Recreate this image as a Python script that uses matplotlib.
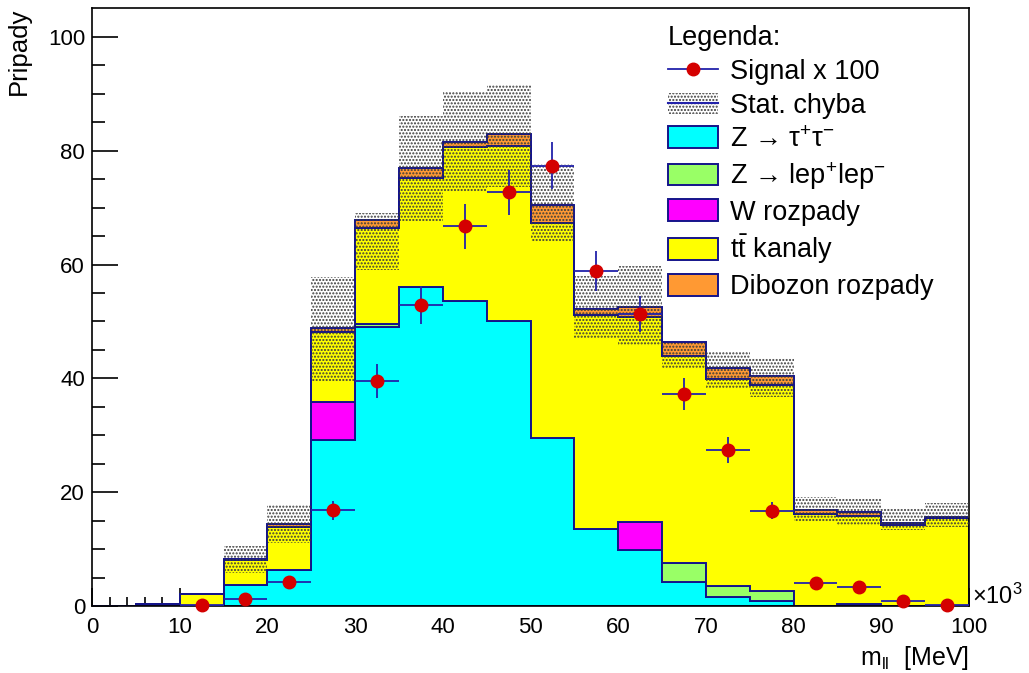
import numpy as np
import matplotlib
matplotlib.use("Agg")
import matplotlib.pyplot as plt
from matplotlib.patches import Patch
from matplotlib.lines import Line2D

plt.rcParams['font.family'] = ['Liberation Sans', 'DejaVu Sans']
plt.rcParams['mathtext.fontset'] = 'custom'
plt.rcParams['mathtext.rm'] = 'Liberation Sans'
plt.rcParams['mathtext.it'] = 'Liberation Sans'
plt.rcParams['mathtext.bf'] = 'Liberation Sans:bold'
plt.rcParams['hatch.linewidth'] = 1.0

# bins in units of 10^3 MeV
bin_edges = np.arange(0, 101, 5)

# stacked backgrounds, bottom to top
z_tautau = [0, 0, 0, 3.7, 6.3, 29.1, 49.0, 56.1, 53.6, 50.0,
            29.6, 13.5, 9.8, 4.3, 1.6, 0.8, 0, 0.3, 0, 0]
z_leplep = [0, 0, 0, 0, 0, 0, 0.5, 0, 0, 0,
            0, 0, 0, 3.3, 1.9, 1.9, 0, 0, 0, 0]
w_decays = [0, 0, 0, 0, 0, 6.7, 0, 0, 0, 0,
            0, 0, 5.0, 0, 0, 0, 0, 0, 0, 0]
ttbar = [0, 0.3, 2.1, 4.4, 7.6, 12.3, 17.0, 19.2, 27.1, 30.9,
         37.7, 37.6, 36.0, 36.4, 36.4, 36.1, 16.1, 15.5, 14.3, 15.4]
diboson = [0, 0, 0, 0.2, 0.5, 0.8, 1.4, 1.7, 0.9, 2.0,
           3.2, 1.1, 1.8, 2.4, 2.0, 1.6, 0.7, 0.7, 0.3, 0.3]

# stat. error band (lower / upper edge)
band_low = [0, 0.3, 2.1, 5.8, 11.1, 39.6, 59.0, 67.7, 72.7, 73.6,
            63.9, 47.0, 45.8, 41.7, 38.3, 36.7, 14.8, 14.2, 13.3, 13.9]
band_high = [0, 0.3, 2.1, 10.5, 17.7, 57.9, 69.0, 86.1, 90.4, 91.6,
             77.7, 58.0, 59.8, 46.3, 44.6, 43.5, 19.1, 18.8, 17.1, 18.1]

# signal x 100
sig_x = [12.5, 17.5, 22.5, 27.5, 32.5, 37.5, 42.5, 47.5, 52.5,
         57.5, 62.5, 67.5, 72.5, 77.5, 82.5, 87.5, 92.5, 97.5]
sig_y = [0.1, 1.3, 4.2, 16.8, 39.6, 52.9, 66.7, 72.7, 77.4,
         58.8, 51.3, 37.3, 27.4, 16.7, 4.1, 3.3, 0.8, 0.2]
sig_err = [0.2, 0.5, 0.8, 1.7, 3.0, 3.3, 3.9, 4.0, 4.2,
           3.5, 3.2, 2.8, 2.3, 1.5, 0.8, 0.7, 0.4, 0.2]

labels = ['Z \u2192 \u03c4$^{+}$\u03c4$^{-}$',
          'Z \u2192 lep$^{+}$lep$^{-}$',
          'W rozpady',
          r'$t\bar{t}$ kanaly',
          'Dibozon rozpady']
colors = ['#00ffff', '#99ff66', '#ff00ff', '#ffff00', '#ff9933']
navy = '#14148a'
red = '#d40000'
blue = '#2222aa'
dots = '#3a3a3a'

fig = plt.figure(figsize=(10.29, 6.73), dpi=100)
ax = fig.add_axes([0.0894, 0.0996, 0.8523, 0.8886])

bottom = np.zeros(len(bin_edges) - 1)
for vals, col in zip([z_tautau, z_leplep, w_decays, ttbar, diboson], colors):
    top = bottom + np.array(vals)
    ax.stairs(top, bin_edges, baseline=bottom, fill=True,
              facecolor=col, edgecolor=navy, linewidth=1.4, zorder=2)
    bottom = top

ax.stairs(band_high, bin_edges, baseline=band_low, fill=True,
          facecolor='none', edgecolor=dots, linewidth=0,
          hatch='.....', zorder=3)

bw = bin_edges[1] - bin_edges[0]
eb = ax.errorbar(sig_x, sig_y, xerr=bw / 2, yerr=sig_err, fmt='o',
                 ms=9, mfc=red, mec=red, ecolor=blue, elinewidth=1.3,
                 capsize=0, zorder=5)
eb.lines[0].set_clip_on(False)

ax.set_xlim(0, 100)
ax.set_ylim(0, 105.1)
ax.set_xticks(np.arange(0, 101, 10))
ax.set_xticks(np.arange(0, 101, 2), minor=True)
ax.set_yticks(np.arange(0, 101, 20))
ax.set_yticks(np.arange(0, 101, 5), minor=True)
ax.tick_params(which='both', direction='in', top=False, right=False,
               labelsize=16, width=1.2)
ax.tick_params(axis='x', which='major', length=13, pad=8)
ax.tick_params(axis='x', which='minor', length=6.5)
ax.tick_params(axis='y', which='major', length=19, pad=5)
ax.tick_params(axis='y', which='minor', length=9.5)
for sp in ax.spines.values():
    sp.set_linewidth(1.2)

ax.set_xlabel(r'm$_{ll}$  [MeV]', loc='right', fontsize=18, labelpad=4)
ax.set_ylabel('Pripady', loc='top', fontsize=18.5, labelpad=12)
ax.text(1.003, 0.004, r'$\times$10$^{3}$', transform=ax.transAxes,
        fontsize=17, ha='left', va='baseline')

handles = [Line2D([], [], color=blue, lw=1.3, marker='o', ms=9,
                  mfc=red, mec=red),
           (Patch(facecolor='none', edgecolor=dots, hatch='.....', lw=0),
            Line2D([], [], color=blue, lw=1.5))]
handles += [Patch(facecolor=c, edgecolor=navy, lw=1.4) for c in colors]
leg = ax.legend(handles, ['Signal x 100', 'Stat. chyba'] + labels,
                loc='upper left', bbox_to_anchor=(0.657, 0.971),
                frameon=False, title='Legenda:', alignment='left',
                fontsize=19.5, title_fontsize=19.5, borderpad=0,
                handlelength=1.85, handleheight=0.85, handletextpad=0.42,
                labelspacing=0.28, borderaxespad=0)

fig.savefig('out.png', dpi=100)
